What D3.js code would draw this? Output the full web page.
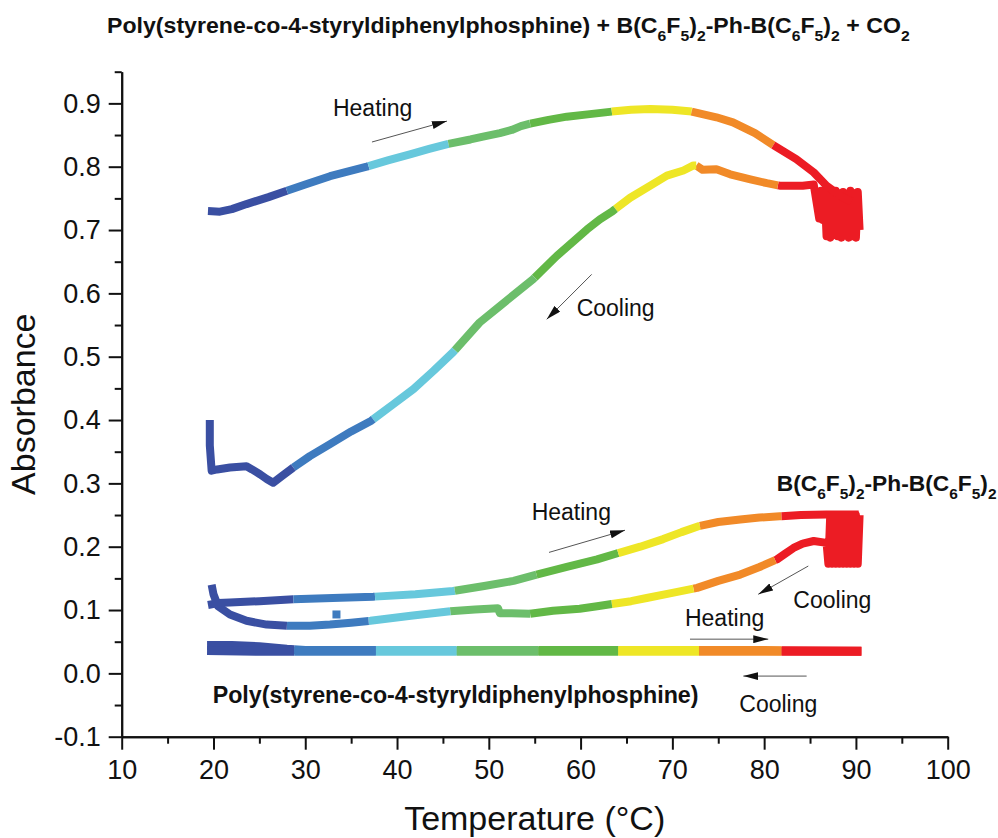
<!DOCTYPE html>
<html><head><meta charset="utf-8">
<script src="https://cdn.jsdelivr.net/npm/d3@7"></script>
<style>
body{margin:0;background:#fff}
svg{display:block}
text{font-family:"Liberation Sans",Arial,Helvetica,sans-serif;fill:#111}
</style>
</head><body>
<svg id="chart" width="998" height="838"></svg>
<script>
// ---------------- data ----------------
const xTicks = [10,20,30,40,50,60,70,80,90,100];
const xMinor = [15,25,35,45,55,65,75,85,95];
const yTicks = [-0.1,0,0.1,0.2,0.3,0.4,0.5,0.6,0.7,0.8,0.9];
const yMinor = [-0.05,0.05,0.15,0.25,0.35,0.45,0.55,0.65,0.75,0.85,0.95];

const binColors = ["#3a4fa2","#3e7bbf","#67c8dc","#6cbe6b","#62b846","#eee626","#f18a28","#ec1c24"];

// Poly(styrene-co-4-styryldiphenylphosphine) + B(C6F5)2-Ph-B(C6F5)2 + CO2 : heating
const heatCO2_T = [19.4,20.7,22.0,23.6,26.0,28.0,30.0,32.7,34.8,36.7,39.0,41.5,43.5,45.6,48.0,49.5,51.2,52.5,53.5,54.5,56.5,58.5,61.0,63.4,65.5,67.6,70.0,72.1,74.8,76.6,79.0,81.0,83.5,85.4,86.8,88.3,89.5];
const heatCO2_A = [0.730,0.729,0.733,0.741,0.752,0.762,0.772,0.785,0.793,0.800,0.810,0.820,0.828,0.836,0.843,0.848,0.853,0.858,0.864,0.868,0.874,0.879,0.883,0.887,0.890,0.891,0.890,0.887,0.878,0.870,0.853,0.834,0.812,0.791,0.770,0.754,0.745];
const heatCO2_breaks = [28.0,36.9,45.6,54.5,63.4,72.1,81.0];

// ... : cooling
const coolCO2_T = [90.4,90.2,90.0,89.8,89.6,89.4,89.2,89.0,88.8,88.6,88.4,88.2,88.0,87.8,87.6,87.4,87.2,87.0,86.8,86.6,86.4,86.2,86.0,85.4,84.2,83.2,81.7,80.3,78.5,76.3,74.8,73.3,72.6,72.3,71.2,69.4,67.6,65.4,63.5,62.1,60.7,57.4,54.8,51.2,49.0,46.1,44.0,41.8,39.5,37.2,35.0,32.7,30.5,28.7,27.5,26.5,25.8,25.1,24.2,23.6,21.8,20.4,19.8,19.6,19.6];
const coolCO2_A = [0.700,0.760,0.688,0.758,0.690,0.762,0.688,0.756,0.692,0.760,0.688,0.758,0.690,0.762,0.692,0.756,0.688,0.760,0.690,0.762,0.716,0.762,0.718,0.772,0.770,0.770,0.770,0.774,0.780,0.788,0.796,0.795,0.802,0.802,0.794,0.786,0.770,0.751,0.730,0.717,0.701,0.659,0.622,0.580,0.554,0.507,0.478,0.449,0.424,0.399,0.382,0.362,0.343,0.325,0.312,0.301,0.307,0.314,0.322,0.327,0.325,0.322,0.320,0.360,0.400];
const coolCO2_breaks = [28.7,37.4,46.3,55.0,63.8,72.6,81.5];

// B(C6F5)2-Ph-B(C6F5)2 : heating
const heatB_T = [19.4,20.5,21.8,25.0,28.7,33.0,37.4,42.0,46.1,49.5,52.7,55.2,58.5,61.8,64.1,66.5,69.0,71.0,73.0,75.0,77.4,79.5,81.7,84.0,86.8,88.5,90.3];
const heatB_A = [0.108,0.111,0.112,0.114,0.117,0.119,0.121,0.125,0.130,0.138,0.146,0.156,0.168,0.180,0.190,0.200,0.212,0.223,0.233,0.239,0.243,0.246,0.248,0.250,0.251,0.251,0.251];
const heatB_breaks = [28.7,37.6,46.3,55.2,64.1,73.0,81.9];

// B(C6F5)2-Ph-B(C6F5)2 : cooling
const coolB_T = [90.4,90.2,90.0,89.8,89.6,89.4,89.2,89.0,88.8,88.6,88.4,88.2,88.0,87.8,87.6,87.4,87.2,87.0,86.8,85.4,84.2,83.2,82.3,81.4,79.5,77.4,75.0,72.7,70.0,67.2,65.5,63.6,61.8,59.9,57.0,54.5,52.5,51.2,51.0,48.5,45.8,41.5,37.1,35.0,32.7,30.5,28.3,25.8,23.6,21.8,20.5,20.0,19.8];
const coolB_A = [0.250,0.173,0.250,0.173,0.250,0.173,0.250,0.173,0.250,0.173,0.250,0.173,0.250,0.173,0.250,0.173,0.250,0.173,0.206,0.209,0.205,0.198,0.189,0.180,0.168,0.156,0.146,0.135,0.127,0.119,0.114,0.110,0.106,0.102,0.099,0.094,0.095,0.095,0.103,0.101,0.098,0.091,0.083,0.080,0.077,0.075,0.075,0.077,0.083,0.093,0.106,0.125,0.140];
const coolB_breaks = [28.0,36.9,45.8,54.5,63.4,72.3,81.2];
const strayB_T = [33.4];
const strayB_A = [0.093];

// Poly(styrene-co-4-styryldiphenylphosphine) : heating / cooling
const heatP_T = [19.3,25,30,40,50,60,70,80,90.6];
const heatP_A = [0.036,0.035,0.035,0.035,0.035,0.035,0.035,0.035,0.035];
const coolP_T = [90.6,80,70,60,50,40,35,30,28,25,22,19.3];
const coolP_A = [0.035,0.036,0.036,0.036,0.036,0.036,0.036,0.036,0.038,0.042,0.044,0.044];
const polyBreaks = [28.8,37.7,46.5,55.4,64.1,72.9,81.9];

// annotation texts and arrows (data units)
const noteText = ["Heating","Cooling","Heating","Cooling","Heating","Cooling"];
const noteT = [33.02,59.57,54.67,83.18,71.37,77.29];
const noteA = [0.880,0.564,0.242,0.104,0.0747,-0.0605];
const arrowFrom = [[37.27,0.839],[61.21,0.630],[56.56,0.191],[84.81,0.1695],[71.92,0.054],[84.63,-0.0043]];
const arrowTo   = [[45.44,0.872],[56.31,0.559],[64.84,0.226],[79.36,0.1248],[80.45,0.054],[77.73,-0.0043]];

const titleParts = [["Poly(styrene-co-4-styryldiphenylphosphine) + B(C",0],["6",1],["F",0],["5",1],[")",0],["2",1],["-Ph-B(C",0],["6",1],["F",0],["5",1],[")",0],["2",1],[" + CO",0],["2",1]];
const bLabelParts = [["B(C",0],["6",1],["F",0],["5",1],[")",0],["2",1],["-Ph-B(C",0],["6",1],["F",0],["5",1],[")",0],["2",1]];
const polyLabel = "Poly(styrene-co-4-styryldiphenylphosphine)";

// ---------------- drawing ----------------
const svg = d3.select("#chart");
const x = d3.scaleLinear([10,100],[121.7,947.7]);
const y = d3.scaleLinear([-0.1,0.95],[736.7,71.7]);

function styleAxis(g){
  g.attr("font-size",null).attr("font-family",null);
  g.selectAll(".domain").attr("stroke","#111").attr("stroke-width",2);
  g.selectAll(".tick line").attr("stroke","#111").attr("stroke-width",2);
  g.selectAll(".tick text").attr("font-size","27px").attr("fill","#111");
}
const yFmt = d => d3.format(".1f")(d).replace("\u2212","-");
svg.append("g").attr("transform",`translate(0,${y(-0.1)})`)
  .call(d3.axisBottom(x).tickValues(xMinor).tickSize(7).tickSizeOuter(0).tickFormat(""))
  .call(styleAxis);
svg.append("g").attr("transform",`translate(0,${y(-0.1)})`)
  .call(d3.axisBottom(x).tickValues(xTicks).tickSize(13).tickSizeOuter(0).tickPadding(10).tickFormat(d3.format("d")))
  .call(styleAxis);
svg.append("g").attr("transform",`translate(${x(10)},0)`)
  .call(d3.axisLeft(y).tickValues(yMinor).tickSize(7).tickSizeOuter(0).tickFormat(""))
  .call(styleAxis);
svg.append("g").attr("transform",`translate(${x(10)},0)`)
  .call(d3.axisLeft(y).tickValues(yTicks).tickSize(13).tickSizeOuter(0).tickPadding(8).tickFormat(yFmt))
  .call(styleAxis);

svg.append("text").attr("x",(x(10)+x(100))/2).attr("y",830)
  .attr("text-anchor","middle").attr("font-size","34px").text("Temperature (°C)");
svg.append("text").attr("transform",`translate(35,${(y(-0.1)+y(0.95))/2}) rotate(-90)`)
  .attr("text-anchor","middle").attr("font-size","34px").text("Absorbance");

function segments(Ts, As, breaks){
  const bin = t => d3.bisectRight(breaks, t);
  const segs = [];
  let cur = {bin: bin(Ts[0]), pts: [[Ts[0], As[0]]]};
  for (let i = 1; i < Ts.length; i++){
    const t0 = Ts[i-1], a0 = As[i-1], t1 = Ts[i], a1 = As[i];
    let b0 = bin(t0); const b1 = bin(t1);
    while (b0 !== b1){
      const bt = b1 > b0 ? breaks[b0] : breaks[b0-1];
      const f = (bt - t0) / (t1 - t0);
      const p = [bt, a0 + f*(a1 - a0)];
      cur.pts.push(p); segs.push(cur);
      b0 = b1 > b0 ? b0 + 1 : b0 - 1;
      cur = {bin: b0, pts: [p]};
    }
    cur.pts.push([t1, a1]);
  }
  segs.push(cur);
  return segs;
}
const line = d3.line().x(d => x(d[0])).y(d => y(d[1]));
const plot = svg.append("g");
function drawSeries(Ts, As, breaks, w){
  segments(Ts, As, breaks).forEach(s => {
    plot.append("path").attr("d", line(s.pts)).attr("fill","none")
      .attr("stroke", binColors[s.bin]).attr("stroke-width", w)
      .attr("stroke-linejoin","round").attr("stroke-linecap","butt");
  });
}
drawSeries(coolP_T, coolP_A, polyBreaks, 9);
drawSeries(heatP_T, heatP_A, polyBreaks, 9);
drawSeries(coolB_T, coolB_A, coolB_breaks, 8);
drawSeries(heatB_T, heatB_A, heatB_breaks, 8);
drawSeries(coolCO2_T, coolCO2_A, coolCO2_breaks, 8);
drawSeries(heatCO2_T, heatCO2_A, heatCO2_breaks, 8);
strayB_T.forEach((t,i) => {
  plot.append("rect").attr("x", x(t)-4).attr("y", y(strayB_A[i])-4).attr("width",8).attr("height",8)
    .attr("fill", binColors[d3.bisectRight(coolB_breaks, t)]);
});

const defs = svg.append("defs");
defs.append("marker").attr("id","ah").attr("viewBox","0 -4 15 8")
  .attr("refX",15).attr("refY",0).attr("markerWidth",15).attr("markerHeight",8)
  .attr("markerUnits","userSpaceOnUse").attr("orient","auto")
  .append("path").attr("d","M0,-4L15,0L0,4Z").attr("fill","#111");
arrowFrom.forEach((f,i) => {
  const t = arrowTo[i];
  svg.append("line").attr("x1",x(f[0])).attr("y1",y(f[1])).attr("x2",x(t[0])).attr("y2",y(t[1]))
    .attr("stroke","#555").attr("stroke-width",1).attr("marker-end","url(#ah)");
});

noteText.forEach((s,i) => {
  svg.append("text").attr("x",x(noteT[i])).attr("y",y(noteA[i])).attr("font-size","23px").text(s);
});

function chemText(parts, px, py, size, width){
  const g = svg.append("g");
  const t = g.append("text").attr("x",0).attr("y",0).attr("font-size",size+"px").attr("font-weight","bold");
  const off = size*0.36;
  let down = false;
  parts.forEach(([s, sub]) => {
    const ts = t.append("tspan").text(s);
    if (sub && !down){ ts.attr("dy", off).attr("font-size", (size*0.68)+"px"); down = true; }
    else if (sub){ ts.attr("font-size", (size*0.68)+"px"); }
    else if (!sub && down){ ts.attr("dy", -off); down = false; }
  });
  const w = t.node().getBBox().width;
  g.attr("transform",`translate(${px},${py}) scale(${width/w},1)`);
}
chemText(titleParts, 107, 33, 22, 803);
chemText(bLabelParts, x(81.37), y(0.288), 22, 220);
chemText([[polyLabel,0]], x(19.91), y(-0.0463), 23, 486);
</script>
</body></html>
